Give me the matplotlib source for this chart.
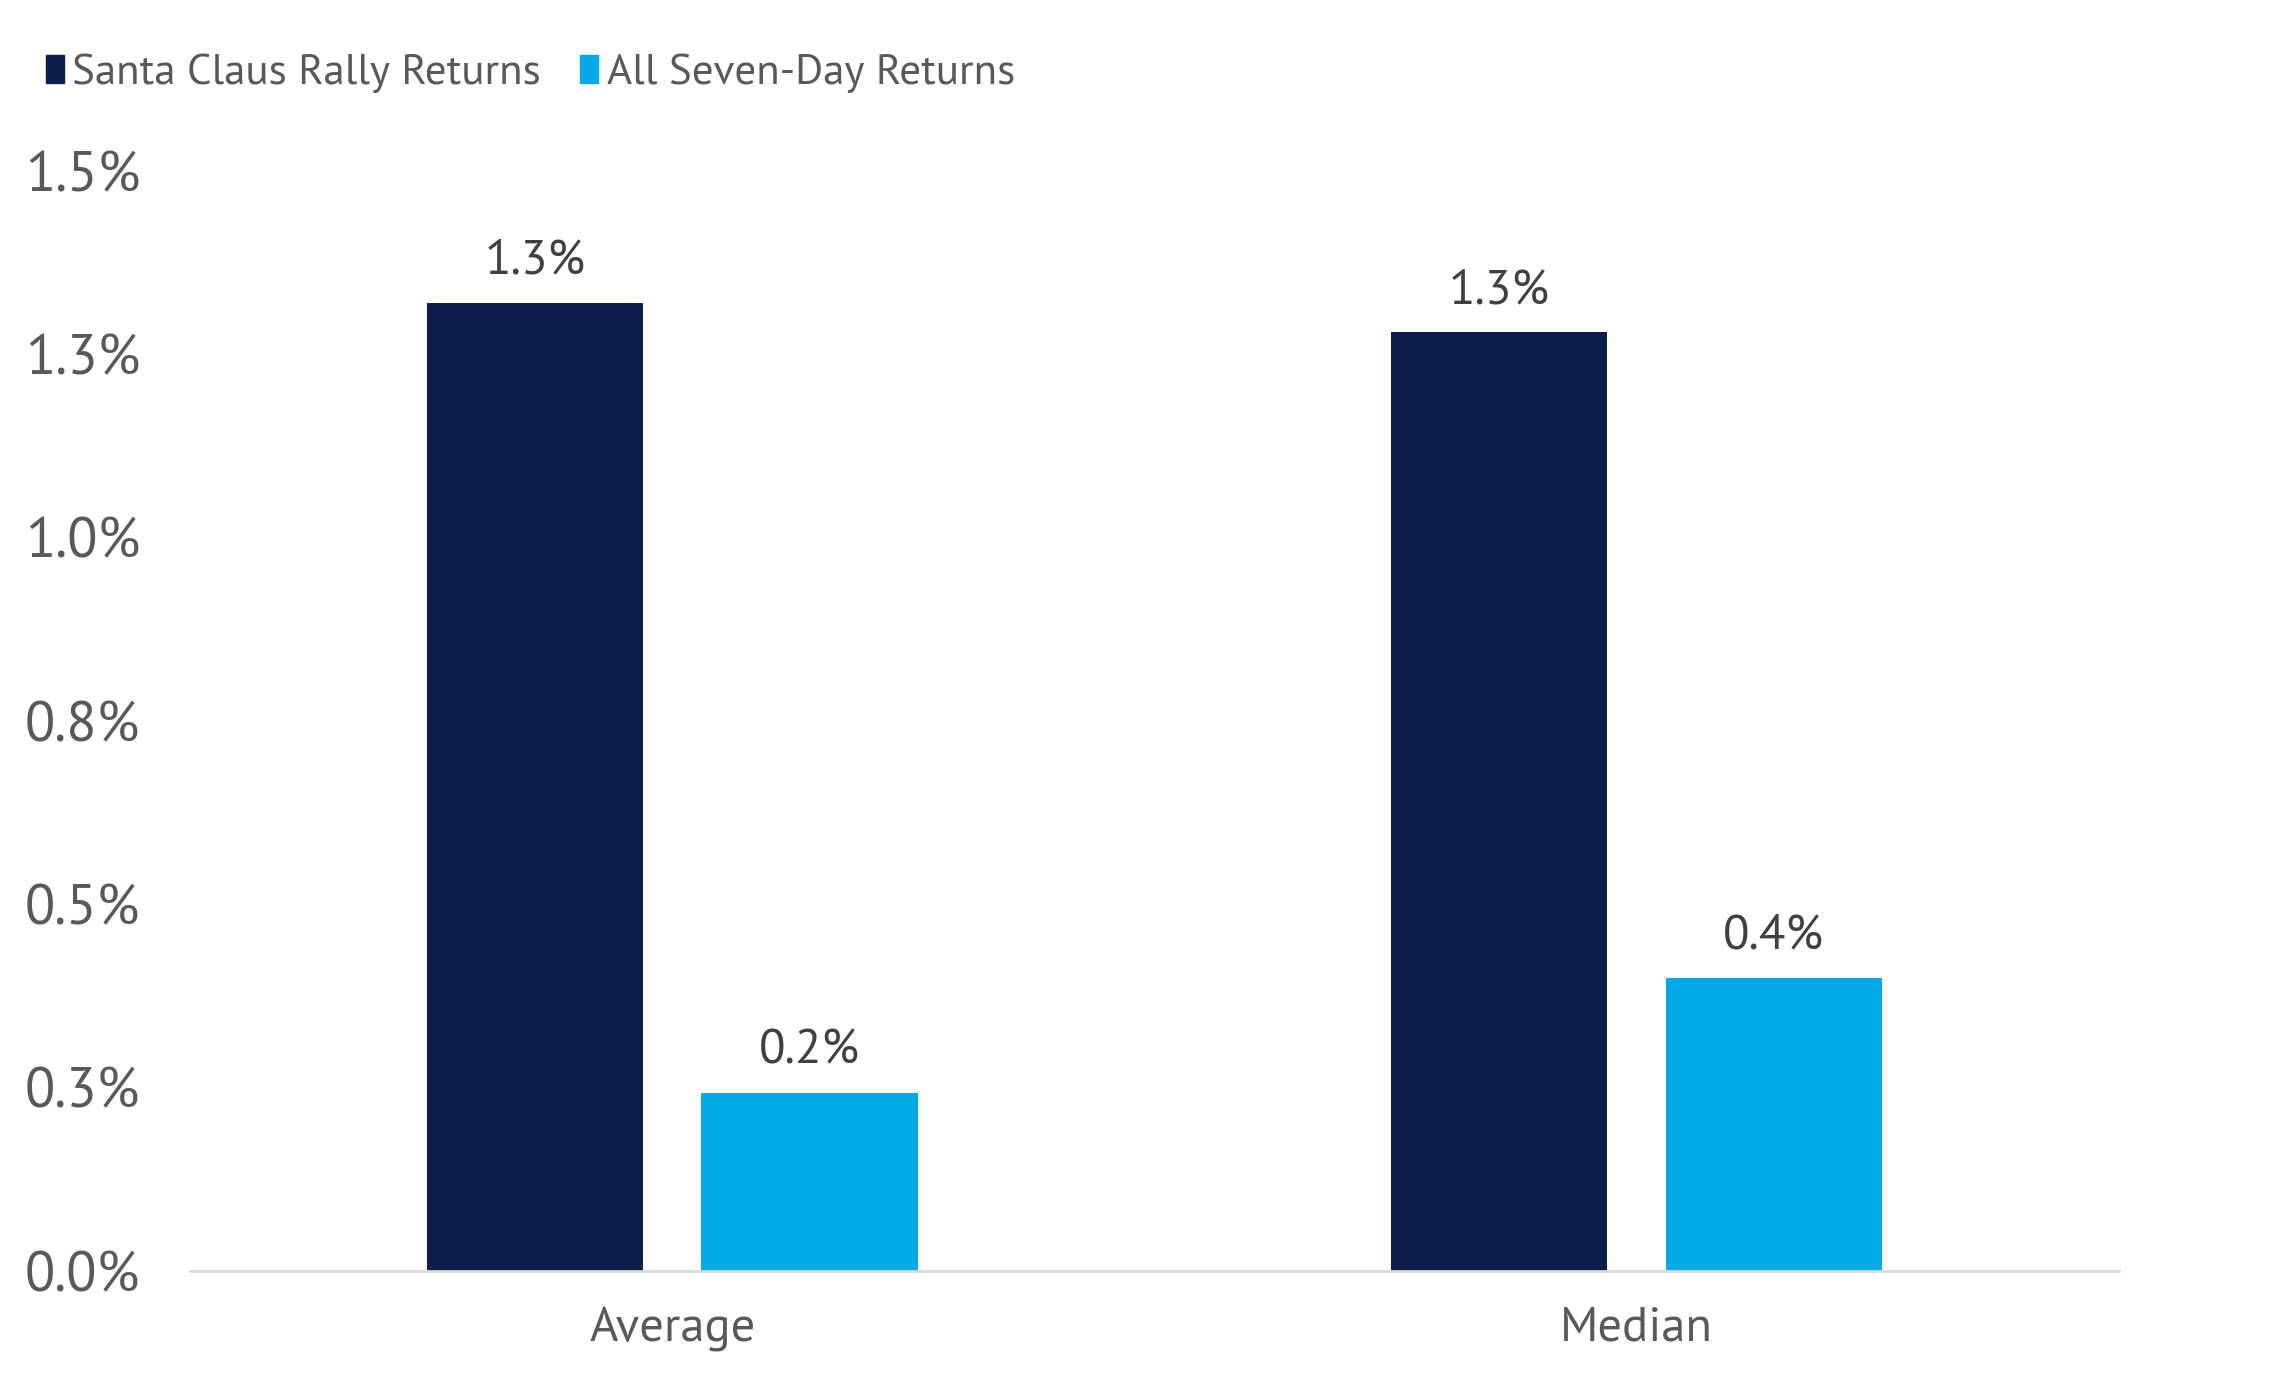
import matplotlib
matplotlib.use("Agg")
import matplotlib.pyplot as plt
from matplotlib.patches import Patch
from matplotlib import font_manager as fm
import numpy as np

categories = ["Average", "Median"]
series_names = ["Santa Claus Rally Returns", "All Seven-Day Returns"]
santa_values = [1.32, 1.28]
all_values = [0.243, 0.40]
santa_labels = ["1.3%", "1.3%"]
all_labels = ["0.2%", "0.4%"]
yticks = [0.0, 0.25, 0.5, 0.75, 1.0, 1.25, 1.5]
ytick_labels = ["0.0%", "0.3%", "0.5%", "0.8%", "1.0%", "1.3%", "1.5%"]

names = {f.name for f in fm.fontManager.ttflist}
fam = "DejaVu Sans"
for cand in ["PT Sans", "Hind", "IBM Plex Sans Condensed", "Lato"]:
    if cand in names:
        fam = cand
        break
plt.rcParams['font.family'] = [fam, 'DejaVu Sans']

DARK = "#0C1E4E"
LIGHT = "#00A9E8"
TXT = "#595959"
LBL = "#404040"

fig = plt.figure(figsize=(22.94, 13.85), dpi=100)
ax = fig.add_axes([0.0829, 0.0824, 0.8406, 0.7941])

x = np.arange(len(categories))
w = 0.2245
off = 0.1425
b1 = ax.bar(x - off, santa_values, w, color=DARK)
b2 = ax.bar(x + off, all_values, w, color=LIGHT)

for bars, labs in ((b1, santa_labels), (b2, all_labels)):
    for r, lab in zip(bars, labs):
        ax.annotate(lab, (r.get_x() + r.get_width() / 2, r.get_height()),
                    xytext=(0, 14), textcoords="offset points",
                    ha="center", va="bottom", fontsize=35, color=LBL)

ax.set_xlim(-0.5, 1.5)
ax.set_ylim(0, 1.5)
ax.set_yticks(yticks)
ax.set_yticklabels(ytick_labels)
ax.set_xticks(x)
ax.set_xticklabels(categories)
ax.tick_params(axis="y", length=0, labelsize=40, labelcolor=TXT, pad=36)
ax.tick_params(axis="x", length=0, labelsize=35, labelcolor=TXT, pad=26)
for s in ("top", "right", "left"):
    ax.spines[s].set_visible(False)
ax.spines["bottom"].set_color("#D9D9D9")
ax.spines["bottom"].set_linewidth(2)

handles = [Patch(color=DARK), Patch(color=LIGHT)]
leg = fig.legend(handles, series_names, loc="center left",
                 bbox_to_anchor=(0.0105, 0.947), ncol=2, frameon=False,
                 fontsize=31, handlelength=0.42, handleheight=0.6,
                 handletextpad=0.2, columnspacing=0.9, borderpad=0)
for t in leg.get_texts():
    t.set_color(TXT)

fig.savefig("out.png", dpi=100)
